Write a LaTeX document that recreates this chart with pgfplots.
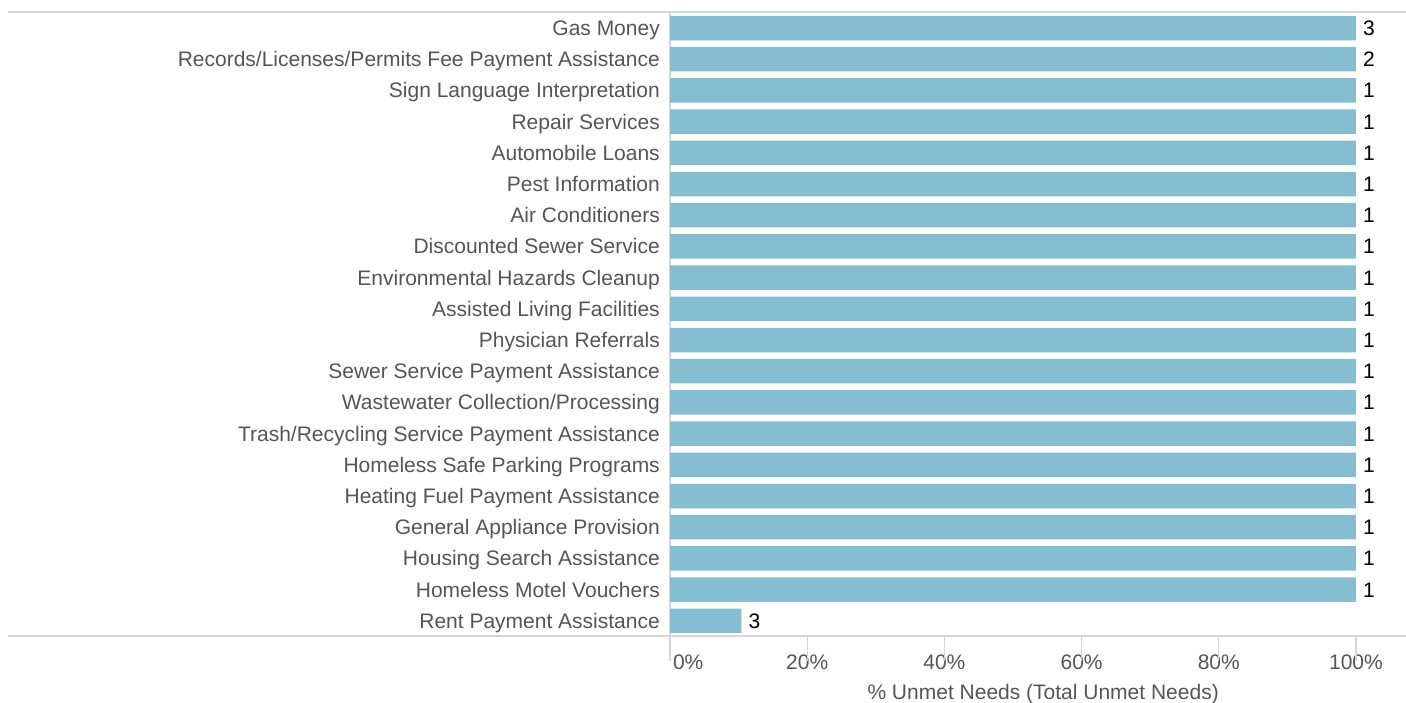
\documentclass[border=0pt]{standalone}
\usepackage{fontspec}
\setmainfont{Liberation Sans}
\usepackage{pgfplots}
\pgfplotsset{compat=1.18}
\usepackage{pgfplotstable}
\definecolor{barblue}{RGB}{133,190,208}
\definecolor{lbl}{RGB}{85,85,85}
\definecolor{rulec}{RGB}{214,214,214}
\pgfplotstableread{
y x lab
0 100 3
1 100 2
2 100 1
3 100 1
4 100 1
5 100 1
6 100 1
7 100 1
8 100 1
9 100 1
10 100 1
11 100 1
12 100 1
13 100 1
14 100 1
15 100 1
16 100 1
17 100 1
18 100 1
19 10.4 3
}\data
\begin{document}
\begin{tikzpicture}
\path[use as bounding box] (0,0) rectangle (1406pt,-702pt);
\draw[rulec, line width=1.2pt] (8pt,-12pt) -- (1406pt,-12pt);
\draw[rulec, line width=1.2pt] (8pt,-636pt) -- (1406pt,-636pt);
\draw[rulec, line width=1.2pt] (670pt,-12pt) -- (670pt,-636pt);
\begin{axis}[
  at={(670pt,-636pt)}, anchor=south west,
  scale only axis, width=736pt, height=624pt,
  xmin=0, xmax=107.29, ymin=-0.513, ymax=19.487, y dir=reverse,
  xbar, bar width=24.5pt, bar shift=0pt,
  axis line style={draw=none},
  major tick length=0pt,
  xtick={0,20,40,60,80,100},
  xticklabels={\makebox[0pt][l]{\hspace{3pt}0\%},20\%,40\%,60\%,80\%,100\%},
  xtick pos=bottom,
  ytick={0,...,19},
  yticklabels={Gas Money,Records/Licenses/Permits Fee Payment Assistance,Sign Language Interpretation,Repair Services,Automobile Loans,Pest Information,Air Conditioners,Discounted Sewer Service,Environmental Hazards Cleanup,Assisted Living Facilities,Physician Referrals,Sewer Service Payment Assistance,Wastewater Collection/Processing,Trash/Recycling Service Payment Assistance,Homeless Safe Parking Programs,Heating Fuel Payment Assistance,General Appliance Provision,Housing Search Assistance,Homeless Motel Vouchers,Rent Payment Assistance},
  ytick pos=left,
  yticklabel style={font=\fontsize{21}{25}\selectfont, text=lbl, anchor=base east, inner sep=0pt, xshift=-10pt, yshift=-7.5pt},
  xticklabel style={font=\fontsize{21}{25}\selectfont, text=lbl, anchor=base, inner sep=0pt, yshift=-33.5pt},
  xlabel={\% Unmet Needs (Total Unmet Needs)},
  xlabel style={font=\fontsize{21}{25}\selectfont, text=lbl, at={(axis description cs:0.507,0)}, anchor=base, inner sep=0pt, yshift=-63.5pt},
  point meta=explicit symbolic,
  nodes near coords,
  nodes near coords style={font=\fontsize{21}{25}\selectfont, text=black, anchor=base west, inner sep=0pt, xshift=7pt, yshift=-7.5pt},
  clip=false,
]
\addplot[fill=barblue, draw=none] table[x=x, y=y, meta=lab] {\data};
\pgfplotsinvokeforeach{0,20,40,60,80,100}{
  \draw[rulec, line width=1.2pt] (axis cs:#1,19.487) -- ++(0,-9pt);
}
\end{axis}
\end{tikzpicture}
\end{document}
